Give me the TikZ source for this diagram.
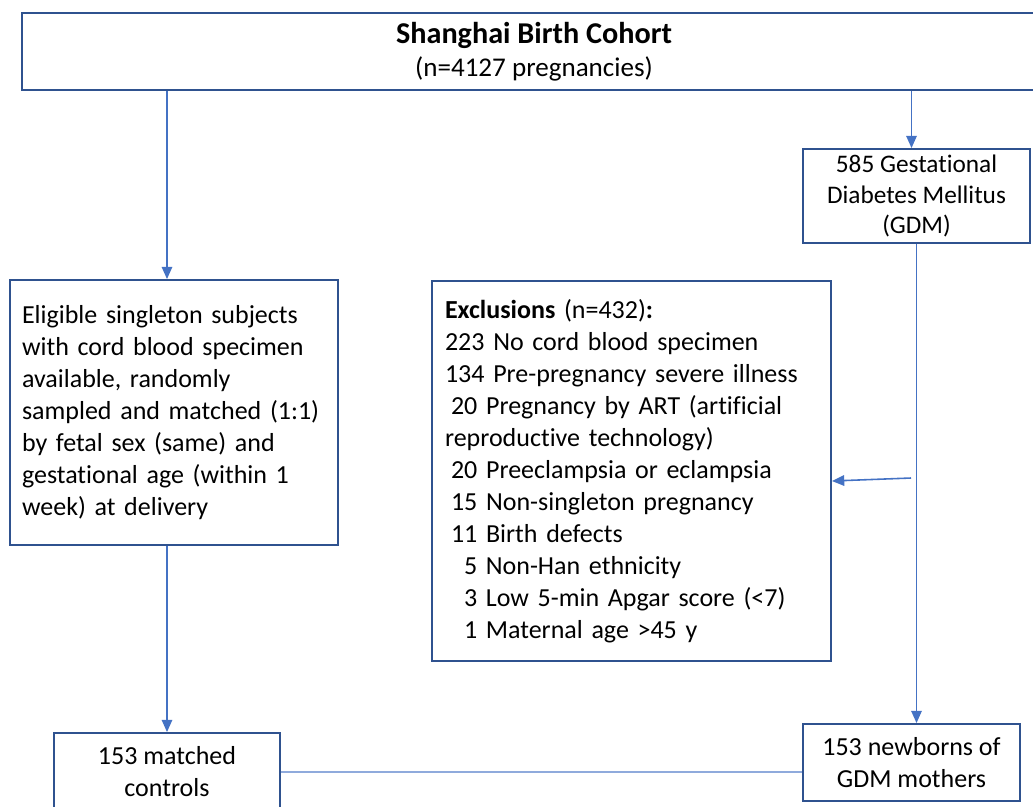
\documentclass[tikz,border=0pt]{standalone}
\usepackage{fontspec}
\setmainfont{Carlito}[Ligatures=NoCommon]
\usetikzlibrary{arrows.meta}
\definecolor{boxblue}{HTML}{2F528F}
\definecolor{arrowblue}{HTML}{4472C4}
\definecolor{lineblue}{HTML}{8FAADC}

\begin{document}
\begin{tikzpicture}[x=0.02cm,y=-0.02cm,
    box/.style={draw=boxblue,line width=1.1pt,rectangle,inner sep=0pt,
        font=\fontsize{14.8}{18.2}\selectfont,align=center},
    flow/.style={draw=arrowblue,line width=0.9pt,-{Triangle[length=7pt,width=6pt]}},
    ]
    \useasboundingbox (0,0) rectangle (1033,806);
    \clip (0,0) rectangle (1033,806);
    % boxes
    \node[box,minimum width=20.48cm,minimum height=1.54cm,font=\fontsize{15.4}{18.8}\selectfont] (cohort) at (534,51.5)
        {{\fontsize{17.2}{18.8}\selectfont\bfseries Shanghai Birth Cohort}\\(n=4127 pregnancies)};
    \node[box,minimum width=4.54cm,minimum height=1.88cm,font=\fontsize{14.4}{17.6}\selectfont] (gdm) at (916.5,196)
        {585 Gestational\\Diabetes Mellitus\\(GDM)};
    \node[box,minimum width=6.56cm,minimum height=5.3cm,text width=6.08cm,align=left] (eligible) at (174,412.5)
        {Eligible singleton subjects\\with cord blood specimen\\available, randomly\\
        sampled and matched (1:1)\\by fetal sex (same) and\\gestational age (within 1\\
        week) at delivery};
    \node[box,minimum width=7.98cm,minimum height=7.6cm,text width=7.46cm,align=left] (exclusions) at (631.5,471)
        {\textbf{Exclusions} (n=432)\textbf{:}\\
        223 No cord blood specimen\\
        134 Pre-pregnancy severe illness\\
        \hspace*{0.12cm}20 Pregnancy by ART (artificial\\
        reproductive technology)\\
        \hspace*{0.12cm}20 Preeclampsia or eclampsia\\
        \hspace*{0.12cm}15 Non-singleton pregnancy\\
        \hspace*{0.12cm}11 Birth defects\\
        \hspace*{0.38cm}5 Non-Han ethnicity\\
        \hspace*{0.38cm}3 Low 5-min Apgar score (<7)\\
        \hspace*{0.38cm}1 Maternal age >45 y};
    \node[box,minimum width=4.52cm,minimum height=1.56cm] (controls) at (167,772)
        {153 matched\\controls};
    \node[box,minimum width=4.34cm,minimum height=1.54cm] (newborns) at (911.5,762.5)
        {153 newborns of\\GDM mothers};
    % connectors
    \draw[flow] (cohort.south -| controls.north) -- (eligible.north -| controls.north);
    \draw[flow] (cohort.south -| newborns.north) -- (gdm.north -| newborns.north);
    \draw[flow] (gdm.south) -- (gdm.south |- newborns.north);
    \draw[flow] (eligible.south -| controls.north) -- (controls.north);
    \coordinate (exstart) at (911,478);
    \draw[flow] (exstart) -- ([yshift=-0.2cm]exclusions.east);
    \draw[lineblue,line width=0.8pt] (controls.east) -- (controls.east -| newborns.west);
\end{tikzpicture}
\end{document}
